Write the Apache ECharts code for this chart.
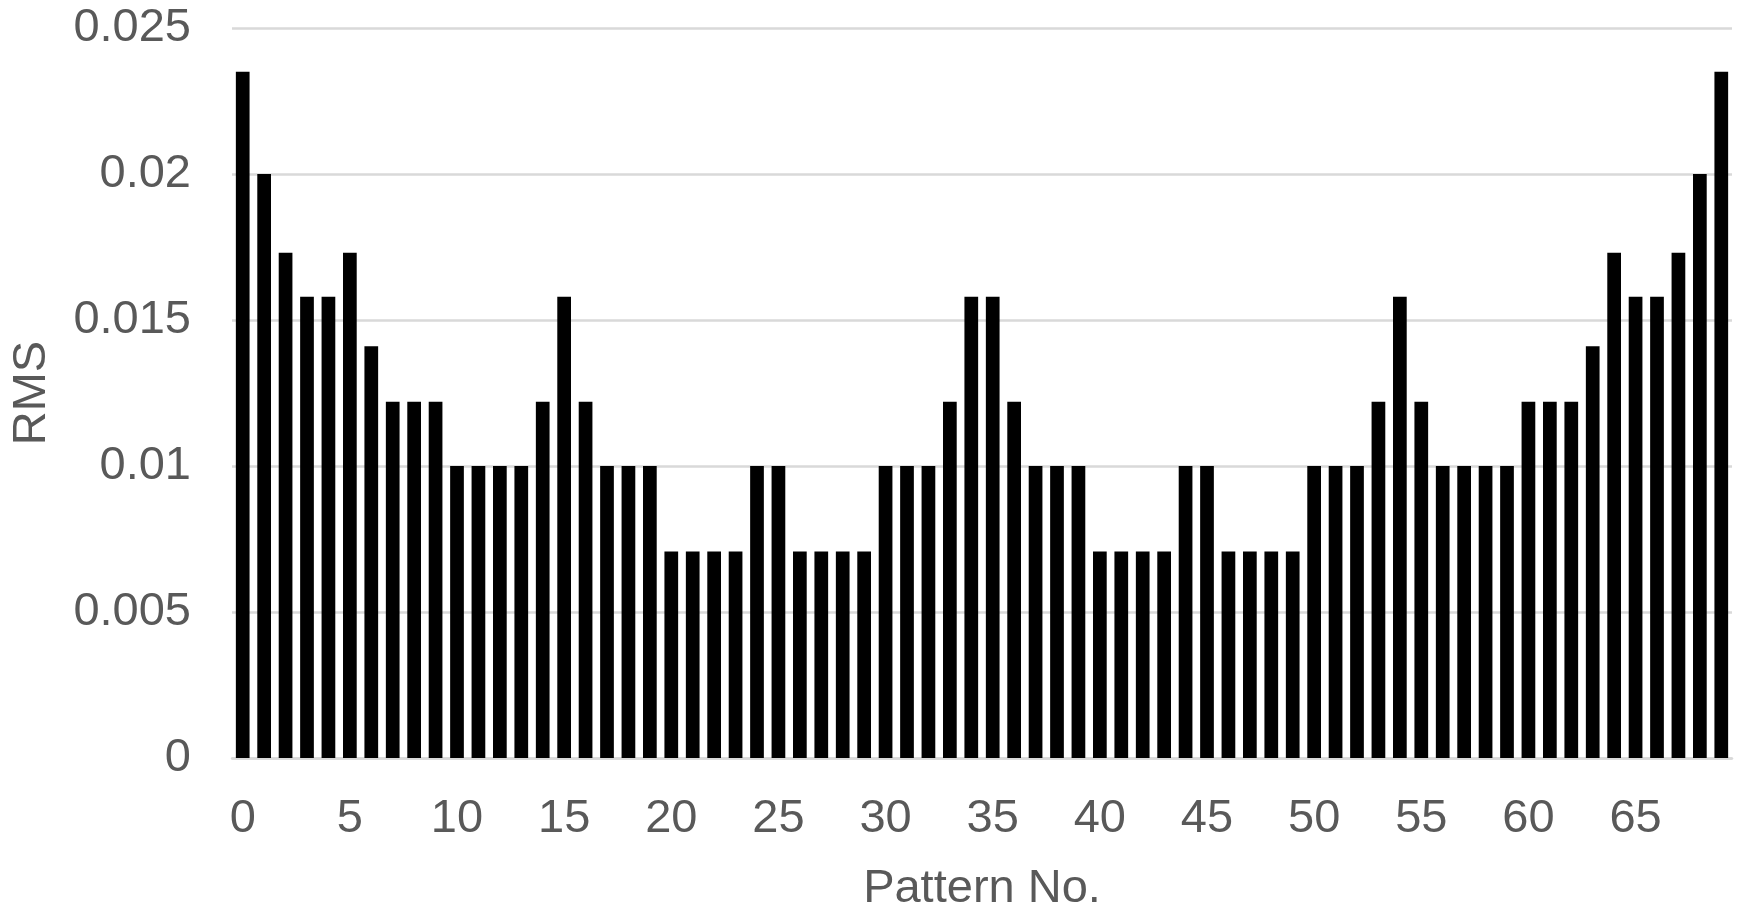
<!DOCTYPE html>
<html>
<head>
<meta charset="utf-8">
<script src="https://cdn.jsdelivr.net/npm/echarts@6/dist/echarts.min.js"></script>
<style>
html,body{margin:0;padding:0;background:#fff;}
#c{width:1739px;height:908px;}
</style>
</head>
<body>
<div id="c"></div>
<script>
const categories = ['0','1','2','3','4','5','6','7','8','9','10','11','12','13','14','15','16','17','18','19','20','21','22','23','24','25','26','27','28','29','30','31','32','33','34','35','36','37','38','39','40','41','42','43','44','45','46','47','48','49','50','51','52','53','54','55','56','57','58','59','60','61','62','63','64','65','66','67','68','69'];
const rmsValues = [
  0.0235, 0.0200, 0.0173, 0.0158, 0.0158, 0.0173, 0.0141, 0.0122, 0.0122, 0.0122,
  0.0100, 0.0100, 0.0100, 0.0100, 0.0122, 0.0158, 0.0122, 0.0100, 0.0100, 0.0100,
  0.00707, 0.00707, 0.00707, 0.00707, 0.0100, 0.0100, 0.00707, 0.00707, 0.00707, 0.00707,
  0.0100, 0.0100, 0.0100, 0.0122, 0.0158, 0.0158, 0.0122, 0.0100, 0.0100, 0.0100,
  0.00707, 0.00707, 0.00707, 0.00707, 0.0100, 0.0100, 0.00707, 0.00707, 0.00707, 0.00707,
  0.0100, 0.0100, 0.0100, 0.0122, 0.0158, 0.0122, 0.0100, 0.0100, 0.0100, 0.0100,
  0.0122, 0.0122, 0.0122, 0.0141, 0.0173, 0.0158, 0.0158, 0.0173, 0.0200, 0.0235
];
const yTicks = [0, 0.005, 0.01, 0.015, 0.02, 0.025];

const txt = '#595959';
const font = 'Liberation Sans, Arial, sans-serif';
const chart = echarts.init(document.getElementById('c'));
chart.setOption({
  animation: false,
  grid: {left: 232, right: 7, top: 28, bottom: 150, containLabel: false, outerBoundsMode: 'none'},
  xAxis: {
    type: 'category',
    data: categories,
    name: 'Pattern No.',
    nameLocation: 'middle',
    nameGap: 108,
    nameTextStyle: {color: txt, fontSize: 47, fontFamily: font},
    axisLine: {lineStyle: {color: '#d9d9d9', width: 2.5}},
    axisTick: {show: false},
    axisLabel: {interval: 4, color: txt, fontSize: 47, fontFamily: font, margin: 38}
  },
  yAxis: {
    type: 'value',
    min: yTicks[0],
    max: yTicks[yTicks.length - 1],
    interval: 0.005,
    name: 'RMS',
    nameLocation: 'middle',
    nameGap: 176,
    nameTextStyle: {color: txt, fontSize: 47, fontFamily: font},
    axisLine: {show: false},
    axisTick: {show: false},
    splitLine: {lineStyle: {color: '#d9d9d9', width: 2.5}},
    axisLabel: {color: txt, fontSize: 47, fontFamily: font, margin: 41,
      formatter: v => String(+v.toFixed(3))}
  },
  series: [{
    type: 'bar',
    data: rmsValues,
    barWidth: '64%',
    itemStyle: {color: '#000'}
  }]
});
</script>
</body>
</html>
